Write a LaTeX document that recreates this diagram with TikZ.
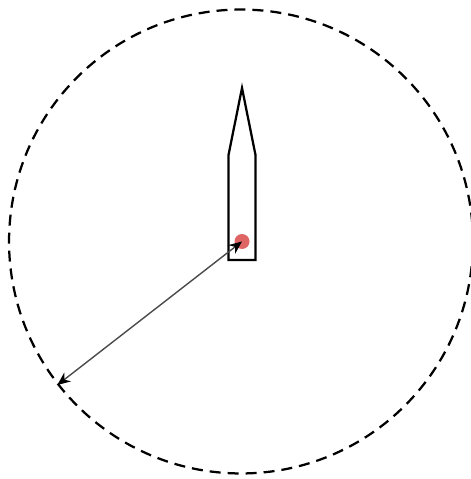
\documentclass[tikz,border=0pt]{standalone}
\usetikzlibrary{arrows.meta}
\definecolor{dotred}{HTML}{D94A4A}
\definecolor{arrowgray}{HTML}{4A4A4A}
\begin{document}
\begin{tikzpicture}[x=0.02cm, y=-0.02cm,
    rangecircle/.style={circle, draw, line width=0.045cm, dash pattern=on 0.22cm off 0.14cm, minimum size=9.28cm, inner sep=0pt},
    posdot/.style={circle, fill=dotred, fill opacity=0.85, minimum size=0.3cm, inner sep=0pt},
    boatline/.style={line width=0.045cm, line join=miter},
    >={Stealth[length=2.6mm, width=2.2mm, color=black]}]
  \useasboundingbox (0,0) rectangle (470,479);
  % detection range
  \node[rangecircle] (range) at (241,241.5) {};
  % boat hull
  \draw[boatline] (228.5,260) -- (228.5,155) -- (242,88) -- (255.5,155) -- (255.5,260) -- cycle;
  % boat position
  \node[posdot] (pos) at (242,241.5) {};
  % radius
  \draw[arrowgray, line width=0.028cm, <->] (pos.center) -- (range.218);
\end{tikzpicture}
\end{document}
